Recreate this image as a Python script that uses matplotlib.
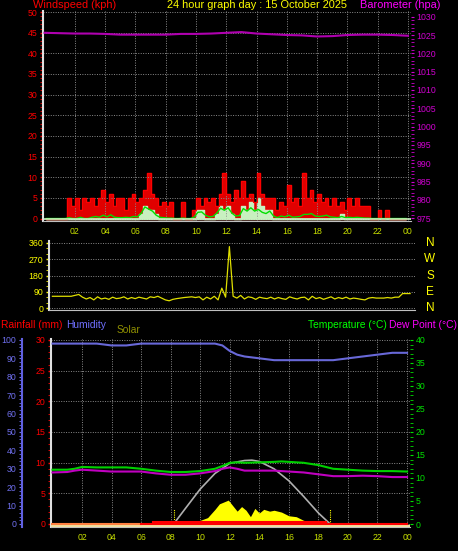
import numpy as np
import matplotlib
matplotlib.use("Agg")
import matplotlib.pyplot as plt

plt.rcParams["font.family"] = ["Liberation Sans", "DejaVu Sans"]

W, H = 458, 551
BG = "black"
GRID = "#8a8a8a"
TS = 6.3   # tick label size
LS = 7.9   # header label size

# --- data ---
# wind, 15 min steps
wind_gust = [0, 0, 0, 0, 0, 0, 5, 3, 5, 2, 5, 4, 5, 3, 5, 7, 4, 6, 3, 5, 5, 2, 5, 6,
             4, 5, 7, 11, 6, 5, 3, 4, 3, 4, 0, 0, 4, 0, 0, 2, 5, 3, 5, 4, 5, 3, 6, 11,
             6, 4, 7, 5, 9, 5, 6, 4, 11, 6, 5, 5, 5, 2, 4, 3, 8, 4, 5, 3, 11, 5, 7, 4,
             6, 4, 5, 3, 5, 3, 4, 2, 5, 3, 5, 3, 3, 3, 0, 0, 2, 0, 2, 0, 0, 0, 0, 0]
wind_speed = [0, 0, 0, 0, 0, 0, 0, 0, 0, 0, 0, 0, 0, 0, 0, 0, 0, 0, 0, 0, 0, 0, 0, 0,
              0, 1, 3, 2, 2, 1, 0, 0, 0, 0, 0, 0, 0, 0, 0, 0, 2, 2, 0, 0, 0, 1, 3, 2,
              3, 1, 0, 0, 3, 2, 4, 2, 5, 3, 2, 2, 0, 0, 0, 0, 0, 0, 0, 0, 0, 0, 0, 0,
              0, 0, 0, 0, 0, 0, 1, 0, 0, 0, 0, 0, 0, 0, 0, 0, 0, 0, 0, 0, 0, 0, 0, 0]
wind_avg = [0, 0, 0, 0, 0, 0, 0.2, 0, 0, 0.3, 0, 0, 0.3, 0.5, 0.3, 0.8, 0.4, 0.9, 0.3, 0.2,
            0.2, 0.3, 0.2, 0.5, 0.4, 1.2, 2.8, 2.3, 1.8, 0.8, 0.3, 0.2, 0.1, 0.1, 0, 0,
            0.1, 0, 0, 0.3, 1.5, 1.6, 0.8, 0.4, 0.5, 1.3, 2.5, 2.0, 2.6, 1.3, 0.6, 0.7,
            2.4, 1.8, 2.6, 1.8, 2.2, 1.5, 1.2, 1.8, 0.6, 0.2, 0.6, 0.4, 0.8, 0.3, 0.4, 0.5,
            1.0, 1.0, 1.2, 0.6, 0.5, 0.6, 0.8, 0.4, 0.3, 0.2, 0.5, 0.2, 0.3, 0.2, 0.3, 0.2,
            0.1, 0.1, 0, 0, 0, 0, 0, 0, 0, 0, 0, 0]
hours_baro = list(range(25))
baro = [1025.6, 1025.5, 1025.4, 1025.4, 1025.3, 1025.1, 1025.1, 1025.1, 1025.1, 1025.3,
        1025.3, 1025.4, 1025.6, 1025.8, 1025.4, 1025.2, 1025.0, 1024.9, 1024.6, 1024.7,
        1025.0, 1025.1, 1025.1, 1025.0, 1024.8]
wind_dir = [65, 65, 65, 65, 65, 65, 70, 75, 60, 50, 58, 45, 62, 50, 55, 48, 60, 52, 55, 62,
            50, 58, 52, 60, 55, 50, 62, 58, 65, 55, 45, 40, 48, 52, 55, 58, 60, 62, 58, 62,
            45, 60, 50, 65, 45, 110, 60, 340, 65, 55, 70, 50, 62, 58, 48, 60, 55, 52, 60, 50,
            58, 52, 48, 62, 55, 50, 58, 60, 45, 65, 52, 58, 48, 55, 62, 50, 58, 52, 60, 50,
            55, 52, 48, 45, 55, 58, 55, 55, 55, 58, 55, 60, 60, 80, 80, 80]

hours_th = [0, 1, 1.5, 2, 3, 4, 5, 6, 7, 8, 9, 10, 11, 11.5, 12, 12.5, 13, 14, 15, 15.5,
            16, 17, 18, 19, 20, 21, 22, 23, 24]
humidity = [98, 98, 98, 98, 98, 97, 97, 98, 98, 98, 98, 98, 98, 97, 94, 92, 91, 90, 89, 89,
            89, 89, 89, 89, 90, 91, 92, 93, 93]
temp = [11.8, 11.8, 12.0, 12.4, 12.3, 12.3, 12.3, 12.0, 11.6, 11.3, 11.3, 11.5, 12.0, 12.6,
        13.3, 13.4, 13.3, 13.4, 13.5, 13.6, 13.5, 13.3, 12.8, 12.0, 11.8, 11.6, 11.5, 11.5, 11.4]
dewpt = [11.2, 11.3, 11.6, 11.8, 11.6, 11.4, 11.4, 11.4, 11.0, 10.7, 10.7, 11.0, 11.5, 12.0,
         12.3, 12.0, 11.6, 11.6, 11.6, 11.5, 11.4, 11.2, 10.8, 10.4, 10.4, 10.5, 10.4, 10.2, 10.2]
hours_solar = [8.2, 9, 10, 11, 12, 13, 13.5, 14, 15, 16, 17, 18, 18.8]
solar_theory = [0, 85, 190, 275, 330, 345, 347, 340, 300, 235, 150, 60, 0]
hours_sun = [9.0, 9.5, 10, 10.5, 11, 11.3, 11.6, 11.9, 12.2, 12.5, 12.8, 13.1, 13.4, 13.7,
             14, 14.3, 14.7, 15, 15.5, 16, 16.5, 17, 17.5, 18, 18.5]
solar = [0, 10, 20, 35, 80, 110, 120, 130, 100, 70, 95, 75, 40, 85, 60, 80, 70, 75, 65, 45,
         40, 20, 15, 8, 0]
sunrise, sunset = 8.2, 18.8


def px_axes(fig, x0, y0, x1, y1):
    return fig.add_axes([x0 / W, 1 - y1 / H, (x1 - x0) / W, (y1 - y0) / H])


def style(ax, tick_color, lab_color):
    ax.set_facecolor(BG)
    for s in ax.spines.values():
        s.set_visible(False)
    ax.tick_params(axis="both", colors=tick_color, labelsize=TS, length=2, width=1, pad=2)
    ax.tick_params(axis="y", labelcolor=lab_color)
    ax.tick_params(axis="x", labelcolor="#c8e000", length=0, pad=4)
    ax.grid(True, color=GRID, linestyle=(0, (1, 1.5)), linewidth=0.7)


def hour_axis(ax):
    ax.set_xlim(-0.1, 24.2)
    ax.set_xticks(range(2, 25, 2))
    ax.set_xticklabels(["%02d" % (h % 24) for h in range(2, 25, 2)])


fig = plt.figure(figsize=(W / 100, H / 100), dpi=100, facecolor=BG)
t15 = np.arange(96) * 0.25 + 0.125

# ---------- top: wind + barometer ----------
ax1 = px_axes(fig, 43, 11, 411, 221)
style(ax1, "#ff0000", "#ff0000")
hour_axis(ax1)
ax1.set_ylim(-0.6, 50.25)
ax1.set_yticks(range(0, 51, 5))
ax1.set_yticks(range(0, 51), minor=True)
ax1.tick_params(axis="y", which="minor", colors="#ff0000", length=2)
ax1.step(t15, wind_gust, where="mid", color="#ff0000", lw=0.8)
ax1.fill_between(t15, wind_gust, step="mid", color="#e00000")
ax1.fill_between(t15, wind_speed, step="mid", color="#c8f0c0")
ax1.plot(t15, wind_avg, color="#00e000", lw=1)
ax1.axhline(0, color="#c8f0c0", lw=1.2)
ax1.spines["left"].set_visible(True)
ax1.spines["left"].set_color("#e0e0e0")
ax1.spines["left"].set_linewidth(1.5)
ax1.spines["bottom"].set_visible(True)
ax1.spines["bottom"].set_color("#c0c0c0")

ax1b = ax1.twinx()
ax1b.set_ylim(974.26, 1031.55)
ax1b.set_yticks(range(975, 1031, 5))
ax1b.set_yticks(range(975, 1031), minor=True)
ax1b.tick_params(axis="y", which="both", colors="#d000d0", labelsize=TS, length=2, pad=2)
for s in ax1b.spines.values():
    s.set_visible(False)
ax1b.plot(hours_baro, baro, color="#b000b0", lw=1.5)

fig.text(33 / W, 1 - 5 / H, "Windspeed (kph)", color="#ff0000", fontsize=LS, va="center")
fig.text(257 / W, 1 - 5 / H, "24 hour graph day : 15 October 2025", color="#ffff00",
         fontsize=LS, va="center", ha="center")
fig.text(441 / W, 1 - 5 / H, "Barometer (hpa)", color="#ff00ff", fontsize=LS,
         va="center", ha="right")

# ---------- middle: wind direction ----------
ax2 = px_axes(fig, 49, 241, 415, 310)
style(ax2, "#ffff00", "#ffff00")
ax2.set_xlim(-0.1, 24.2)
ax2.set_xticks(range(2, 25, 2))
ax2.tick_params(axis="x", labelbottom=False)
ax2.grid(False, axis="x")
ax2.set_ylim(-11, 371)
ax2.set_yticks(range(0, 361, 90))
ax2.set_yticks(range(0, 361, 30), minor=True)
ax2.tick_params(axis="y", which="minor", colors="#ffff00", length=2)
ax2.plot(t15, wind_dir, color="#e0e000", lw=0.9)
ax2.spines["left"].set_visible(True)
ax2.spines["left"].set_color("#e0e0e0")
ax2.spines["left"].set_linewidth(1.5)
ax2.spines["bottom"].set_visible(True)
ax2.spines["bottom"].set_color("#c0c0c0")
for lab, y in zip(["N", "W", "S", "E", "N"], [243, 259, 276, 292, 308]):
    fig.text(430 / W, 1 - y / H, lab, color="#ffff00", fontsize=8.5, va="center", ha="center")

# ---------- bottom: temp / humidity / rain / solar ----------
ax3 = px_axes(fig, 51, 339, 410, 527)
style(ax3, "#ff0000", "#ff0000")
hour_axis(ax3)
ax3.set_ylim(-0.49, 30.16)
ax3.set_yticks(range(0, 31, 5))
ax3.set_yticks(range(0, 31), minor=True)
ax3.tick_params(axis="y", which="minor", colors="#ff0000", length=2)
ax3.spines["left"].set_visible(True)
ax3.spines["left"].set_color("#e0e0e0")
ax3.spines["left"].set_linewidth(1.5)
ax3.spines["bottom"].set_visible(True)
ax3.spines["bottom"].set_color("#c0c0c0")

axs = ax3.twinx()
axs.set_ylim(-16, 1005)
axs.set_yticks([])
for s in axs.spines.values():
    s.set_visible(False)
axs.fill_between(hours_sun, solar, color="#ffff00", lw=0)
axs.plot(hours_solar, solar_theory, color="#b0b0b0", lw=1.2)
axs.vlines([sunrise, sunset], 0, 80, color="#ffff00", lw=0.8, linestyles=(0, (1, 1)))
axs.plot([0, 24.1], [-8, -8], color="#f0e0a0", lw=2.5)
axs.plot([0, 6], [0, 0], color="#ff8040", lw=1.5)
axs.plot([6, 24], [0, 0], color="#ff0000", lw=1.5)
axs.plot([6.8, 18.5], [10, 10], color="#ff0000", lw=1.5)

axt = ax3.twinx()
axt.set_ylim(-0.65, 40.2)
axt.set_yticks(range(0, 41, 5))
axt.set_yticks(range(0, 41), minor=True)
axt.tick_params(axis="y", which="both", colors="#00e000", labelsize=TS, length=2, pad=2)
for s in axt.spines.values():
    s.set_visible(False)
axt.plot(hours_th, temp, color="#00d000", lw=1.5)
axt.plot(hours_th, dewpt, color="#c000c0", lw=1.5)

axh = ax3.twinx()
axh.set_ylim(-1.63, 100.5)
for s in axh.spines.values():
    s.set_visible(False)
axh.spines["left"].set_visible(True)
axh.spines["left"].set_position(("outward", 21))
axh.spines["left"].set_color("#6060e0")
axh.spines["left"].set_linewidth(1.5)
axh.yaxis.set_ticks_position("left")
axh.yaxis.set_label_position("left")
axh.set_yticks(range(0, 101, 10))
axh.set_yticks(range(0, 101, 2), minor=True)
axh.tick_params(axis="y", which="both", colors="#7070f0", labelsize=TS, length=2, pad=2)
axh.plot(hours_th, humidity, color="#6868d8", lw=1.5)

BS = 7.4
fig.text(1 / W, 1 - 325 / H, "Rainfall (mm)", color="#ff0000", fontsize=BS, va="center")
fig.text(66 / W, 1 - 325 / H, "Humidity", color="#7070ff", fontsize=BS, va="center")
fig.text(117 / W, 1 - 330 / H, "Solar", color="#909000", fontsize=BS, va="center")
fig.text(308 / W, 1 - 325 / H, "Temperature (°C)", color="#00ff00", fontsize=BS, va="center")
fig.text(389 / W, 1 - 325 / H, "Dew Point (°C)", color="#ff00ff", fontsize=BS, va="center")

fig.savefig("out.png", dpi=100, facecolor=BG)
